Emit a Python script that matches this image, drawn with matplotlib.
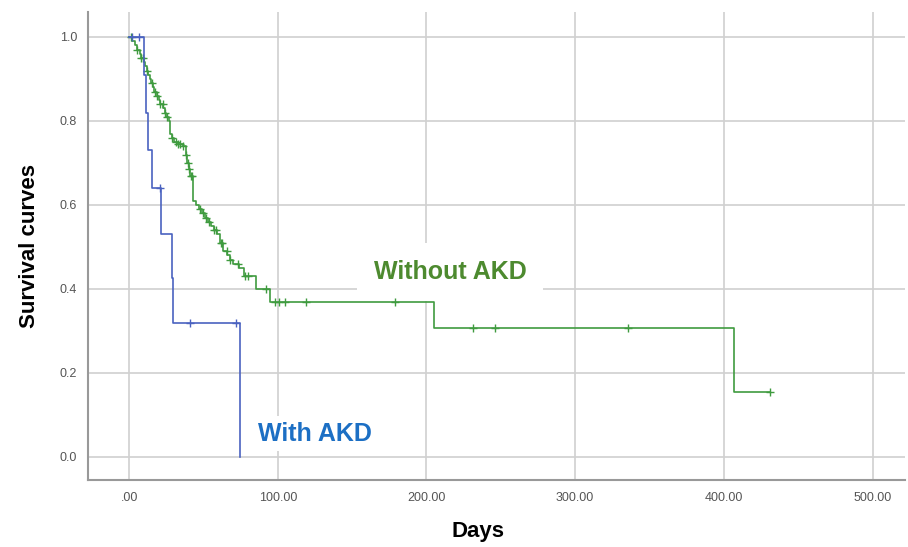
import matplotlib
matplotlib.use('Agg')

import numpy as np
import matplotlib.pyplot as plt

plt.rcParams['font.family'] = ['Liberation Sans', 'DejaVu Sans']

# ---- data (days, survival) ----
akd_times = [0, 10, 11.5, 13, 15.3, 21.5, 29, 29.7, 74.7]
akd_surv = [1.0, 0.91, 0.82, 0.73, 0.64, 0.53, 0.425, 0.32, 0.0]
akd_censor = [1.8, 6.7, 21, 41, 72]

noakd_times = [0, 2, 4, 5, 7, 8, 10, 11, 12, 13, 14, 15, 16, 17, 19, 20, 21, 23, 24, 25,
               27, 27.6, 29, 30, 33, 36, 38, 39, 40, 41, 43.3, 45, 47, 49, 51, 53, 55, 57,
               59, 61, 63, 66, 68, 70, 74, 77, 85, 94.5, 204.8, 406.5]
noakd_surv = [1.0, 0.99, 0.98, 0.97, 0.96, 0.95, 0.94, 0.93, 0.92, 0.91, 0.90, 0.89, 0.88,
              0.87, 0.86, 0.85, 0.84, 0.83, 0.82, 0.81, 0.80, 0.77, 0.76, 0.75, 0.745, 0.74,
              0.72, 0.70, 0.685, 0.67, 0.61, 0.60, 0.59, 0.58, 0.57, 0.56, 0.55, 0.54, 0.53,
              0.51, 0.49, 0.48, 0.47, 0.46, 0.45, 0.43, 0.40, 0.37, 0.308, 0.154]
noakd_censor = [1.5, 5, 8, 9.5, 12, 15.5, 17.5, 19, 21, 22.5, 24, 25.5, 29, 31.5, 33, 34.5,
                36.5, 38, 39.5, 40.5, 41.5, 42.5, 48, 50, 52, 54, 57, 58.5, 61.5, 62.5, 65.5,
                68, 73, 78, 80, 92, 98.3, 100.5, 105, 119, 179, 231.4, 245.8, 335.8, 431]

x_ticks = [0, 100, 200, 300, 400, 500]
x_labels = ['.00', '100.00', '200.00', '300.00', '400.00', '500.00']
y_ticks = [0.0, 0.2, 0.4, 0.6, 0.8, 1.0]
y_labels = ['0.0', '0.2', '0.4', '0.6', '0.8', '1.0']

blue = '#4a62c0'
green = '#3f9b3f'


def censor_points(times, surv, cens):
    times = np.array(times)
    idx = np.searchsorted(times, cens, side='right') - 1
    return np.array(cens), np.array(surv)[idx]


fig = plt.figure(figsize=(9.08, 5.47), dpi=100)
ax = fig.add_axes([0.097, 0.1225, 0.90, 0.856])

# extend the last step up to the final censored time
t_g = noakd_times + [noakd_censor[-1]]
s_g = noakd_surv + [noakd_surv[-1]]
ax.step(t_g, s_g, where='post', color=green, lw=1.2, zorder=3)
cx, cy = censor_points(noakd_times, noakd_surv, noakd_censor)
ax.plot(cx, cy, '+', color=green, ms=6, mew=1.0, zorder=3)

ax.step(akd_times, akd_surv, where='post', color=blue, lw=1.2, zorder=3)
cx, cy = censor_points(akd_times, akd_surv, akd_censor)
ax.plot(cx, cy, '+', color=blue, ms=6, mew=1.0, zorder=3)

ax.set_xlim(-27.6, 522)
ax.set_ylim(-0.055, 1.06)
ax.set_xticks(x_ticks)
ax.set_xticklabels(x_labels)
ax.set_yticks(y_ticks)
ax.set_yticklabels(y_labels)
ax.tick_params(length=0, labelsize=9, labelcolor='#555555')
ax.tick_params(axis='x', pad=9)
ax.tick_params(axis='y', pad=8)

ax.grid(True, color='#d0d0d0', lw=1.2, zorder=0)
ax.set_axisbelow(True)
for s in ['top', 'right']:
    ax.spines[s].set_visible(False)
for s in ['left', 'bottom']:
    ax.spines[s].set_color('#999999')
    ax.spines[s].set_linewidth(1.5)

ax.set_ylabel('Survival curves', fontsize=16, fontweight='bold', labelpad=14)
ax.set_xlabel('Days', fontsize=16, fontweight='bold')
ax.xaxis.set_label_coords(0.477, -0.088)

ax.text(216, 0.44, 'Without AKD', color='#4d8a2f', fontsize=18, fontweight='bold',
        ha='center', va='center', zorder=2,
        bbox=dict(facecolor='white', edgecolor='none', pad=12))
ax.text(125, 0.055, 'With AKD', color='#1c6fc4', fontsize=18, fontweight='bold',
        ha='center', va='center', zorder=2,
        bbox=dict(facecolor='white', edgecolor='none', pad=4))

fig.savefig('out.png', dpi=100)
